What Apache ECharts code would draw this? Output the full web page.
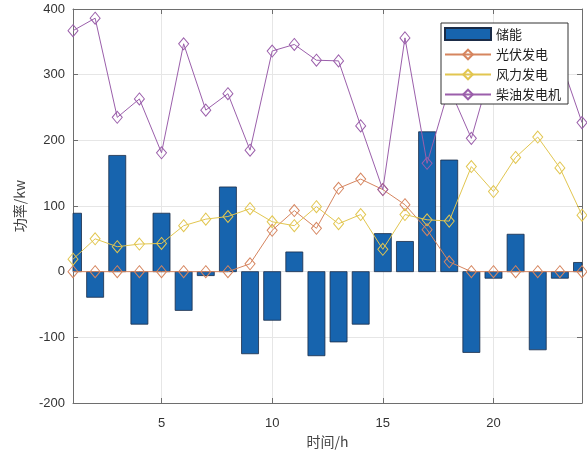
<!DOCTYPE html>
<html>
<head>
<meta charset="utf-8">
<script src="https://cdn.jsdelivr.net/npm/echarts@6/dist/echarts.min.js"></script>
<style>html,body{margin:0;padding:0;background:#fff}#c{width:587px;height:454px}</style>
</head>
<body>
<div id="c"></div>
<script>
const hours = [1,2,3,4,5,6,7,8,9,10,11,12,13,14,15,16,17,18,19,20,21,22,23,24];
const storage = [89,-39,177,-80,89,-59,-6,129,-125,-74,30,-128,-107,-80,58,46,213,170,-123,-10,57,-119,-10,14];
const pv = [0,0,0,0,0,0,0,0,12,63,93,66,127,141,125,102,64,15,0,0,0,0,0,0];
const wind = [19,50,38,42,43,70,80,84,96,76,70,99,73,87,34,87,79,77,160,122,174,205,158,86];
const diesel = [367,386,235,263,181,347,246,271,185,336,346,322,321,222,125,356,165,280,203,321,340,350,325,227];
const xTicks = [5,10,15,20];
const names = ['储能','光伏发电','风力发电','柴油发电机'];

const pair = arr => hours.map((h,i)=>[h,arr[i]]);
const axisCol = '#6e6e6e';
const latin = 'Liberation Sans, Arial, sans-serif';
const cjk = '"Noto Sans CJK SC", sans-serif';
const BAR_W = 17;

function lineSeries(name, data, color){
  return {
    name, type:'line', data: pair(data), xAxisIndex:0, yAxisIndex:0,
    symbol:'diamond', symbolSize:[10,12], showSymbol:true,
    lineStyle:{color, width:1},
    itemStyle:{color:'rgba(255,255,255,0)', borderColor:color, borderWidth:1},
    emphasis:{disabled:true}, z:3
  };
}

function renderBar(params, api){
  const x = api.value(0), v = api.value(1);
  const p0 = api.coord([x, 0]);
  const p1 = api.coord([x, v]);
  const cs = params.coordSys;
  const rect = echarts.graphic.clipRectByRect(
    {x: p0[0]-BAR_W/2, y: Math.min(p0[1],p1[1]), width: BAR_W, height: Math.abs(p1[1]-p0[1])},
    {x: cs.x, y: cs.y, width: cs.width, height: cs.height}
  );
  if (!rect) return null;
  return {type:'rect', shape: rect, style: api.style()};
}

const chart = echarts.init(document.getElementById('c'), null, {renderer:'canvas'});
chart.setOption({
  animation:false,
  backgroundColor:'#fff',
  grid:{left:73, right:5, top:9, bottom:51},
  legend:{
    orient:'vertical', left:441, top:23,
    padding:[4,7,3,3], itemGap:7, itemWidth:46, itemHeight:12,
    backgroundColor:'#fff', borderColor:'#333', borderWidth:1, borderRadius:0,
    textStyle:{fontFamily:cjk, fontSize:13, color:'#222'},
    data:[{name:names[0], icon:'rect'}, names[1], names[2], names[3]],
    z:10
  },
  xAxis:[{
    type:'value', min:1, max:24, position:'bottom',
    name:'时间/h', nameLocation:'middle', nameGap:30,
    nameTextStyle:{fontFamily:cjk, fontSize:14, color:'#444'},
    axisLine:{show:true, onZero:false, lineStyle:{color:axisCol, width:1}},
    axisTick:{show:true, inside:true, length:5, customValues:xTicks, lineStyle:{color:axisCol}},
    axisLabel:{customValues:xTicks, margin:14, fontFamily:latin, fontSize:13, color:'#333'},
    splitLine:{show:true, lineStyle:{color:'#e6e6e6', width:1}}
  },{
    type:'value', min:1, max:24, position:'top',
    axisLine:{show:true, onZero:false, lineStyle:{color:axisCol, width:1}},
    axisTick:{show:true, inside:true, length:5, customValues:xTicks, lineStyle:{color:axisCol}},
    axisLabel:{show:false}, splitLine:{show:false}
  }],
  yAxis:[{
    type:'value', min:-200, max:400, interval:100, position:'left',
    name:'功率/kw', nameLocation:'middle', nameGap:46, nameRotate:90,
    nameTextStyle:{fontFamily:cjk, fontSize:14, color:'#444'},
    axisLine:{show:true, onZero:false, lineStyle:{color:axisCol, width:1}},
    axisTick:{show:true, inside:true, length:5, lineStyle:{color:axisCol}},
    axisLabel:{margin:8, fontFamily:latin, fontSize:13, color:'#333'},
    splitLine:{show:true, lineStyle:{color:'#e6e6e6', width:1}}
  },{
    type:'value', min:-200, max:400, interval:100, position:'right',
    axisLine:{show:true, onZero:false, lineStyle:{color:axisCol, width:1}},
    axisTick:{show:true, inside:true, length:5, lineStyle:{color:axisCol}},
    axisLabel:{show:false}, splitLine:{show:false}
  }],
  series:[
    {
      name:names[0], type:'custom', data: pair(storage), xAxisIndex:0, yAxisIndex:0,
      renderItem: renderBar, encode:{x:0, y:1},
      itemStyle:{color:'#1764ae', borderColor:'#1b2c48', borderWidth:0.8},
      emphasis:{disabled:true}, z:2
    },
    lineSeries(names[1], pv, '#d6855f'),
    lineSeries(names[2], wind, '#e2c650'),
    lineSeries(names[3], diesel, '#9b5fab')
  ]
});
</script>
</body>
</html>
